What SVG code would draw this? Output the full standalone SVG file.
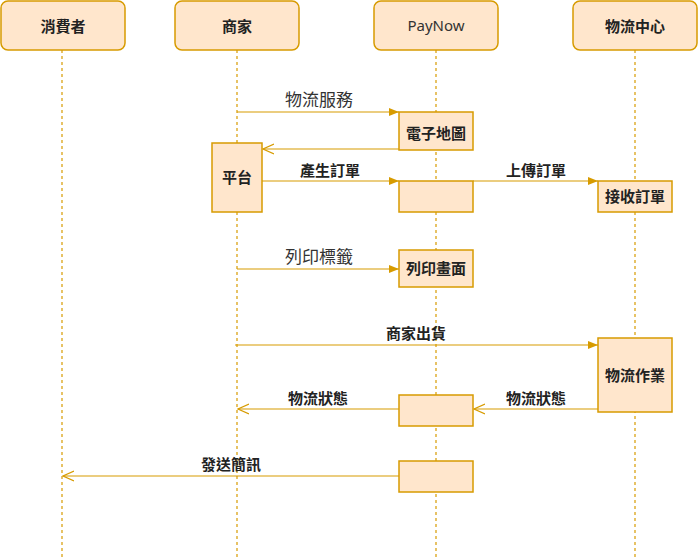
<svg xmlns="http://www.w3.org/2000/svg" width="699" height="557" viewBox="0 0 699 557">
<defs>
<style>
.head{fill:#ffe6cc;stroke:#d79b00;stroke-width:1.5}
.act{fill:#ffe6cc;stroke:#d79b00;stroke-width:1.5}
.life{stroke:#d79b00;stroke-width:1.2;stroke-dasharray:3 3;fill:none}
.msg{stroke:#d79b00;stroke-width:1.2;fill:none}
.t{font-family:"Noto Sans CJK TC","Noto Sans",sans-serif;font-size:15px;font-weight:bold;fill:#222;text-anchor:middle}
.tr{font-family:"Noto Sans CJK TC","Noto Sans",sans-serif;font-size:17px;fill:#333;text-anchor:middle}
.pn{font-family:"Noto Sans","Open Sans",sans-serif;font-size:15px;fill:#333;text-anchor:middle}
</style>
<marker id="fill" viewBox="0 0 10 10" refX="10" refY="5" markerWidth="10" markerHeight="10" markerUnits="userSpaceOnUse" orient="auto">
<path d="M0,1 L10,5 L0,9 Z" fill="#d79b00"/>
</marker>
<marker id="open" viewBox="0 0 12 12" refX="11" refY="6" markerWidth="12" markerHeight="12" markerUnits="userSpaceOnUse" orient="auto">
<path d="M0,1 L11,6 L0,11" fill="none" stroke="#d79b00" stroke-width="1.2"/>
</marker>
</defs>
<rect width="699" height="557" fill="#fff"/>
<g id="lifelines">
<line class="life" x1="62" y1="50" x2="62" y2="557"/>
<line class="life" x1="237" y1="50" x2="237" y2="557"/>
<line class="life" x1="436" y1="50" x2="436" y2="557"/>
<line class="life" x1="635" y1="50" x2="635" y2="557"/>
</g>
<g id="consumer"><rect class="head" x="1" y="1" width="124" height="49" rx="7"/><text class="t" x="63" y="32">消費者</text></g>
<g id="merchant"><rect class="head" x="175" y="1" width="124" height="49" rx="7"/><text class="t" x="237" y="32">商家</text></g>
<g id="paynow"><rect class="head" x="374" y="1" width="124" height="49" rx="7"/><text class="pn" x="436" y="31">PayNow</text></g>
<g id="logistics"><rect class="head" x="573" y="1" width="124" height="49" rx="7"/><text class="t" x="635" y="32">物流中心</text></g>
<g id="connectors">
<line class="msg" x1="237" y1="112" x2="399" y2="112" marker-end="url(#fill)"/>
<line class="msg" x1="399" y1="149" x2="263" y2="149" marker-end="url(#open)"/>
<line class="msg" x1="262" y1="181" x2="399" y2="181" marker-end="url(#fill)"/>
<line class="msg" x1="473" y1="181" x2="598" y2="181" marker-end="url(#fill)"/>
<line class="msg" x1="237" y1="269" x2="399" y2="269" marker-end="url(#fill)"/>
<line class="msg" x1="235" y1="345" x2="598" y2="345" marker-end="url(#fill)"/>
<line class="msg" x1="598" y1="409" x2="474" y2="409" marker-end="url(#open)"/>
<line class="msg" x1="399" y1="409" x2="238" y2="409" marker-end="url(#open)"/>
<line class="msg" x1="399" y1="476" x2="63" y2="476" marker-end="url(#open)"/>
<text class="tr" x="319" y="106">物流服務</text>
<text class="t" x="330" y="176">產生訂單</text>
<text class="t" x="536" y="176">上傳訂單</text>
<text class="tr" x="319" y="263">列印標籤</text>
<text class="t" x="416" y="339">商家出貨</text>
<text class="t" x="536" y="404">物流狀態</text>
<text class="t" x="318" y="404">物流狀態</text>
<text class="t" x="231" y="470">發送簡訊</text>
</g>
<g id="act-map"><rect class="act" x="399" y="112" width="74" height="38"/><text class="t" x="436" y="139">電子地圖</text></g>
<g id="act-platform"><rect class="act" x="212" y="143" width="50" height="69"/><text class="t" x="237" y="183">平台</text></g>
<g id="act-order"><rect class="act" x="399" y="181" width="74" height="31"/></g>
<g id="act-receive"><rect class="act" x="598" y="181" width="74" height="31"/><text class="t" x="635" y="202">接收訂單</text></g>
<g id="act-print"><rect class="act" x="399" y="250" width="74" height="37"/><text class="t" x="436" y="274">列印畫面</text></g>
<g id="act-ops"><rect class="act" x="598" y="338" width="74" height="74"/><text class="t" x="635" y="381">物流作業</text></g>
<g id="act-status"><rect class="act" x="399" y="395" width="74" height="31"/></g>
<g id="act-sms"><rect class="act" x="399" y="461" width="74" height="31"/></g>
</svg>
